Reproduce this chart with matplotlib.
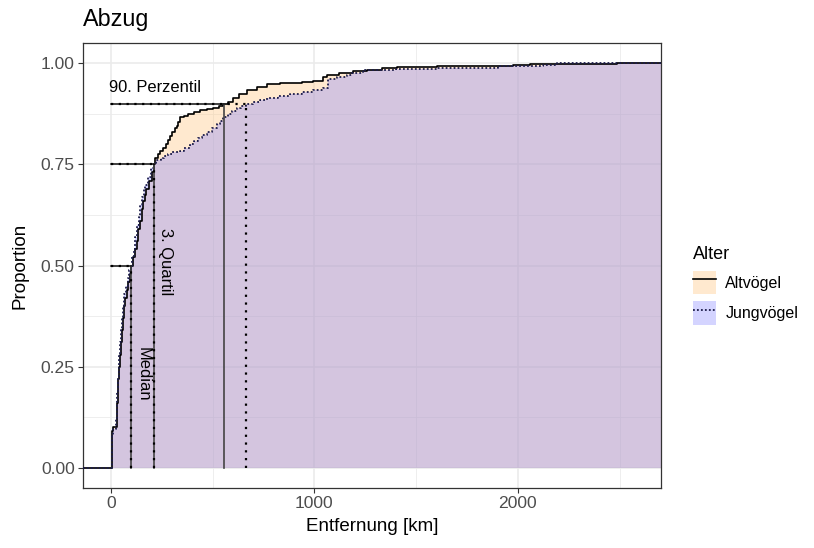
import matplotlib
matplotlib.use("Agg")
import matplotlib.pyplot as plt
from matplotlib.patches import Patch
from matplotlib.lines import Line2D

plt.rcParams['font.family'] = ['Liberation Sans', 'DejaVu Sans']

# ECDF-Knoten (Entfernung in km, kumulierte Proportion)
alt_km = [6, 10, 28, 31, 34, 37, 40, 44, 48, 53, 58, 63, 70, 77, 85, 93, 101, 109,
          117, 126, 134, 142, 151, 159, 167, 175, 188, 200, 211,
          218, 230, 241, 257, 270, 280, 290, 300, 315, 323, 331, 339, 360, 380,
          410, 437, 470, 500, 530, 551,
          575, 600, 630, 667, 720, 765, 830, 880, 940, 993, 1040, 1060, 1120,
          1190, 1256, 1330, 1404, 1600, 1800, 1976, 2058, 2486]
alt_p = [0.09, 0.10, 0.11, 0.16, 0.19, 0.22, 0.25, 0.28, 0.31, 0.34, 0.37, 0.40,
         0.42, 0.44, 0.46, 0.48, 0.50, 0.52, 0.54, 0.56, 0.59, 0.61, 0.64, 0.66,
         0.675, 0.69, 0.71, 0.73, 0.75,
         0.765, 0.775, 0.784, 0.79, 0.80, 0.81, 0.82, 0.83, 0.84, 0.845, 0.855,
         0.866, 0.87, 0.875, 0.88, 0.885, 0.888, 0.89, 0.895, 0.90,
         0.905, 0.915, 0.925, 0.935, 0.942, 0.948, 0.95, 0.952, 0.954, 0.956,
         0.965, 0.972, 0.976, 0.98, 0.984, 0.987, 0.99, 0.992, 0.993, 0.995,
         0.998, 1.0]

jung_km = [5, 12, 26, 29, 32, 35, 38, 41, 45, 50, 55, 60, 66, 74, 82, 90, 100, 106,
           113, 120, 128, 136, 145, 153, 161, 170, 183, 195, 211,
           224, 245, 260, 280, 300, 339, 360, 388, 410, 430, 450, 470, 495, 519,
           535, 551, 575, 595, 618, 640, 665,
           700, 735, 765, 820, 880, 940, 993, 1042, 1066, 1110, 1158, 1183, 1238,
           1400, 1600, 1900, 2123, 2190]
jung_p = [0.08, 0.095, 0.12, 0.16, 0.19, 0.22, 0.25, 0.28, 0.31, 0.34, 0.37, 0.40,
          0.43, 0.45, 0.47, 0.49, 0.50, 0.52, 0.54, 0.57, 0.60, 0.62, 0.65, 0.67,
          0.69, 0.70, 0.72, 0.74, 0.75,
          0.76, 0.765, 0.77, 0.775, 0.78, 0.784, 0.79, 0.80, 0.808, 0.815, 0.822,
          0.83, 0.84, 0.849, 0.857, 0.866, 0.875, 0.882, 0.89, 0.895, 0.90,
          0.905, 0.91, 0.915, 0.92, 0.925, 0.93, 0.935, 0.939, 0.962, 0.966,
          0.972, 0.977, 0.984, 0.986, 0.988, 0.992, 0.995, 1.0]

# Quantile
q_probs = [0.5, 0.75, 0.9]
alt_q = [100, 211, 555]
jung_q = [101, 211, 665]

gruppen = ['Altvögel', 'Jungvögel']

xmin, xmax = -137, 2703
alt_col, alt_alpha = '#FFCA89', 0.4
jung_col, jung_alpha = '#8484FF', 0.35

fig = plt.figure(figsize=(8.14, 5.48), dpi=100)
ax = fig.add_axes([83/814, 60/548, 578/814, 445/548])

# Gitter wie theme_bw
for v in [500, 1500, 2500]:
    ax.axvline(v, color='#EBEBEB', lw=0.6, zorder=0)
for v in [0.125, 0.375, 0.625, 0.875]:
    ax.axhline(v, color='#EBEBEB', lw=0.6, zorder=0)
for v in [0, 1000, 2000]:
    ax.axvline(v, color='#EBEBEB', lw=1.2, zorder=0)
for v in [0, 0.25, 0.5, 0.75, 1.0]:
    ax.axhline(v, color='#EBEBEB', lw=1.2, zorder=0)

def stufen(km, p):
    xs = [xmin] + list(km) + [xmax]
    ys = [0] + list(p) + [p[-1]]
    return xs, ys

ax_x, ax_y = stufen(alt_km, alt_p)
ju_x, ju_y = stufen(jung_km, jung_p)

ax.fill_between(ax_x, ax_y, 0, step='post', color=alt_col, alpha=alt_alpha, lw=0, zorder=1)
ax.fill_between(ju_x, ju_y, 0, step='post', color=jung_col, alpha=jung_alpha, lw=0, zorder=2)

ax.step(ax_x, ax_y, where='post', color='black', lw=1.2, zorder=4)
ax.step(ju_x, ju_y, where='post', color='#1c1c4a', lw=1.3, ls=(0, (1, 1.2)), zorder=4)

# Quantil-Segmente
for p, qa, qj in zip(q_probs, alt_q, jung_q):
    ax.plot([qa, qa], [0, p], color='#444444', lw=1.2, zorder=5)
    ax.plot([0, qa], [p, p], color='#222222', lw=1.2, zorder=5)
    ax.plot([qj, qj], [0, p], color='black', lw=1.6, ls=(0, (1, 2.5)), zorder=5)
    ax.plot([0, qj], [p, p], color='black', lw=1.6, ls=(0, (1, 2.5)), zorder=5)

ax.text(-8, 0.94, '90. Perzentil', fontsize=11.9, ha='left', va='center', zorder=6)
ax.text(268, 0.51, '3. Quartil', fontsize=11.9, rotation=-90, ha='center', va='center', zorder=6)
ax.text(158, 0.231, 'Median', fontsize=11.9, rotation=-90, ha='center', va='center', zorder=6)

ax.set_xlim(xmin, xmax)
ax.set_ylim(-0.05, 1.05)
ax.set_xticks([0, 1000, 2000])
ax.set_yticks([0, 0.25, 0.5, 0.75, 1.0])
ax.set_yticklabels(['0.00', '0.25', '0.50', '0.75', '1.00'])
ax.tick_params(colors='#333333', labelsize=12.6, length=3.5, width=0.8,
               labelcolor='#4D4D4D', pad=2.5)
for s in ax.spines.values():
    s.set_color('#333333')
    s.set_linewidth(0.9)
ax.set_xlabel('Entfernung [km]', fontsize=13.5, labelpad=5)
ax.set_ylabel('Proportion', fontsize=13.5, labelpad=9)
ax.set_title('Abzug', fontsize=16.8, loc='left', pad=12)

handles = [
    (Patch(facecolor=alt_col, alpha=alt_alpha, lw=0), Line2D([], [], color='black', lw=1.2)),
    (Patch(facecolor=jung_col, alpha=jung_alpha, lw=0), Line2D([], [], color='#1c1c4a', lw=1.3, ls=(0, (1, 1.2)))),
]
leg = fig.legend(handles, gruppen, title='Alter', loc='upper left',
                 bbox_to_anchor=(687/814, 1 - 240/548), frameon=False,
                 fontsize=11.5, title_fontsize=13, handlelength=1.4, handleheight=1.9,
                 labelspacing=0.45, handletextpad=0.6, borderaxespad=0)
leg._legend_box.align = 'left'

fig.savefig('out.png', dpi=100)
